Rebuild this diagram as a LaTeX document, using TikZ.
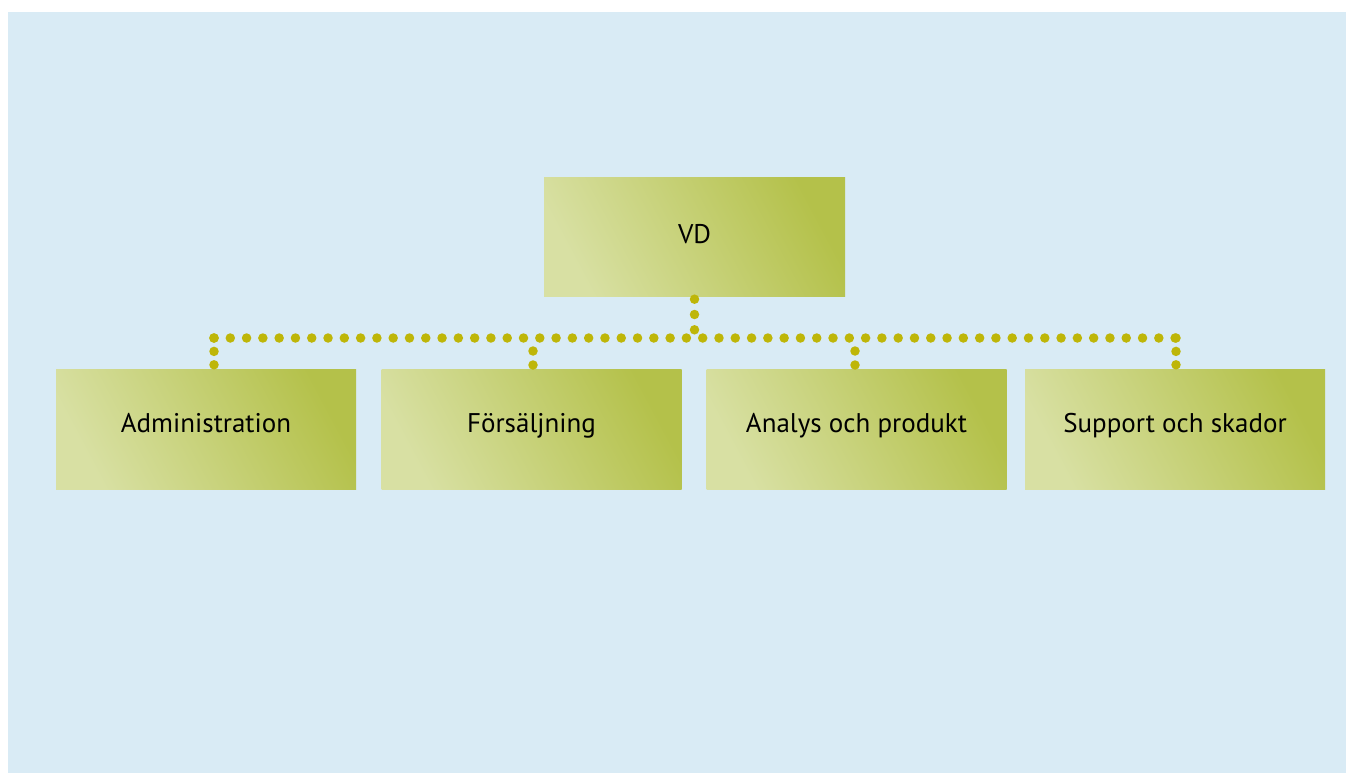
\documentclass[tikz,border=0pt]{standalone}
\usepackage{fontspec}
\setmainfont{PT Sans}
\usetikzlibrary{calc}
\definecolor{skyback}{RGB}{217,235,245}
\definecolor{leaflight}{RGB}{216,224,163}
\definecolor{leafdark}{RGB}{180,193,74}
\definecolor{dotolive}{RGB}{190,182,8}
\tikzset{
    every node/.style={transform shape},
    orgbox/.style={minimum width=300pt, minimum height=120pt, inner sep=0pt,
        bottom color=leaflight, top color=leafdark, shading angle=-62,
        text height=20pt, text depth=14pt,
        font=\fontsize{27}{30}\selectfont},
    dotrow/.style={draw=dotolive, line width=9.5pt, line cap=round,
        dash pattern=on 0pt off #1},
}

\begin{document}
\begin{tikzpicture}[x=1pt, y=1pt]
        \useasboundingbox (0, 0) rectangle (1346, -773);
        \fill[skyback] (8, -12) rectangle (1346, -773); % Backdrop
        \node[orgbox, minimum width=301pt, minimum height=119pt,
            text depth=7pt] (vd) at (694.5, -236.5) {VD}; % Top box
        \node[orgbox] (adm) at (206, -429) {Administration};
        \node[orgbox] (sales) at (531.5, -429) {Försäljning};
        \node[orgbox] (anal) at (856.5, -429) {Analys och produkt};
        \node[orgbox] (supp) at (1175, -429) {Support och skador};
        \coordinate (busL) at (214, -338); % Left end of bus
        \coordinate (busR) at (1176, -338); % Right end of bus
        \coordinate (busB) at (533, -338); % Drop to second box
        \coordinate (busC) at (855, -338); % Drop to third box
        \draw[dotrow=16.29pt] (busL) -- (busR); % Bus
        \draw[dotrow=15.3pt] ($(vd.south)+(0,-3)$)
            -- ($(vd.south |- busL)+(0,8)$); % Stem from VD
        \draw[dotrow=13.4pt] (busL) -- ($(busL |- adm.north)+(0,4)$);
        \draw[dotrow=14pt] ($(busB)+(0,-13)$)
            -- ($(busB |- sales.north)+(0,3.5)$);
        \draw[dotrow=14pt] ($(busC)+(0,-13)$)
            -- ($(busC |- anal.north)+(0,3.5)$);
        \draw[dotrow=13.4pt] (busR) -- ($(busR |- supp.north)+(0,4)$);
    \end{tikzpicture}
\end{document}
